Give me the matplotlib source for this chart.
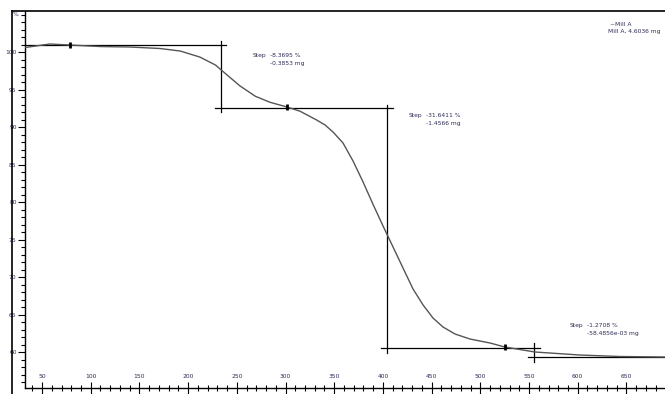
import matplotlib
matplotlib.use("Agg")
import matplotlib.pyplot as plt
from matplotlib.lines import Line2D
from matplotlib.ticker import MultipleLocator

# --- data ---
temp_c = [32.5, 58, 79, 110, 140, 171, 192, 212, 228, 234, 253, 269, 284, 301.5,
          315, 332, 340.6, 348.8, 359, 369.3, 379.6, 389.8, 400.1, 410.4, 420.6, 430.9,
          441.2, 451.4, 461.7, 474, 489.4, 510, 525, 556, 602, 643, 690]
mass_pct = [100.6, 101.07, 100.93, 100.73, 100.67, 100.47, 100.13, 99.33, 98.27,
            97.6, 95.5, 94.1, 93.3, 92.67, 92.1, 90.93, 90.27, 89.33, 87.87, 85.47,
            82.67, 79.7, 76.8, 74.0, 71.2, 68.4, 66.27, 64.53, 63.33, 62.4, 61.73,
            61.2, 60.67, 60.0, 59.6, 59.4, 59.33]

# step evaluation lines: (x0, x1, y) horizontals and (x, y0, y1) verticals
step_h = [(32.5, 239, 100.9), (227.6, 410.4, 92.53), (398, 561, 60.53), (549, 690, 59.33)]
step_v = [(233.8, 101.47, 92.0), (404.2, 92.93, 59.87), (555, 61.2, 58.67)]
markers_t = [78.7, 301.5, 525]
markers_p = [100.93, 92.67, 60.67]

step_labels = [("Step", "-8.3695 %", "-0.3853 mg"),
               ("Step", "-31.6411 %", "-1.4566 mg"),
               ("Step", "-1.2708 %", "-58.4856e-03 mg")]
step_label_pos = [(266.6, 99.6), (426.8, 91.6), (592, 63.6)]

x_ticks = [50, 100, 150, 200, 250, 300, 350, 400, 450, 500, 550, 600, 650]
y_ticks = [60, 65, 70, 75, 80, 85, 90, 95, 100]

W, H = 665, 394
fig = plt.figure(figsize=(W / 100, H / 100), dpi=100)
ax = fig.add_axes([25 / W, 1 - 388 / H, 1 - 25 / W, (388 - 11) / H])
ax.set_xlim(32.5, 689.6)
ax.set_ylim(55.2, 105.47)

txt_col = "#2b2b55"

ax.plot(temp_c, mass_pct, color="#555555", lw=1.0, zorder=3)
for x0, x1, y in step_h:
    ax.plot([x0, x1], [y, y], color="black", lw=0.9, zorder=2)
for x, y0, y1 in step_v:
    ax.plot([x, x], [y0, y1], color="black", lw=0.9, zorder=2)
ax.plot(markers_t, markers_p, ls="none", marker="|", ms=5, mew=2, color="black", zorder=4)

for (s, a, b), (x, y) in zip(step_labels, step_label_pos):
    ax.text(x, y, s, fontsize=4.3, color=txt_col, va="center", ha="left")
    ax.text(x + 17.5, y, a, fontsize=4.3, color=txt_col, va="center", ha="left")
    ax.text(x + 17.5, y - 1.07, b, fontsize=4.3, color=txt_col, va="center", ha="left")

fig.text(610 / W, 1 - 25 / H, "~Mill A", fontsize=4.3, color=txt_col, va="center", ha="left")
fig.text(608 / W, 1 - 32 / H, "Mill A, 4.6036 mg", fontsize=4.3, color=txt_col, va="center", ha="left")

# axes styling
for s in ["top", "right"]:
    ax.spines[s].set_visible(False)
ax.spines["left"].set_linewidth(1.0)
ax.spines["bottom"].set_linewidth(1.0)

ax.set_yticks(y_ticks)
ax.set_yticklabels([str(v) for v in y_ticks])
ax.yaxis.set_minor_locator(MultipleLocator(1))
ax.tick_params(axis="y", which="major", direction="out", length=5, width=0.8,
               labelsize=4.3, labelcolor=txt_col, pad=1)
ax.tick_params(axis="y", which="minor", direction="out", length=3, width=0.8)

ax.set_xticks(x_ticks)
ax.set_xticklabels([str(v) for v in x_ticks])
ax.xaxis.set_minor_locator(MultipleLocator(10))
ax.tick_params(axis="x", which="major", direction="inout", length=8, width=0.8,
               labelsize=4.3, labelcolor=txt_col, pad=-14)
ax.tick_params(axis="x", which="minor", direction="inout", length=5, width=0.8)

fig.text(13 / W, 1 - 15 / H, "%", fontsize=4.3, color=txt_col, va="center", ha="left")

# outer frame
fig.add_artist(Line2D([12 / W, 1], [1 - 11 / H, 1 - 11 / H], color="black", lw=1.2,
                      transform=fig.transFigure))
fig.add_artist(Line2D([12 / W, 12 / W], [0, 1 - 11 / H], color="black", lw=1.2,
                      transform=fig.transFigure))

fig.savefig("out.png", dpi=100)
